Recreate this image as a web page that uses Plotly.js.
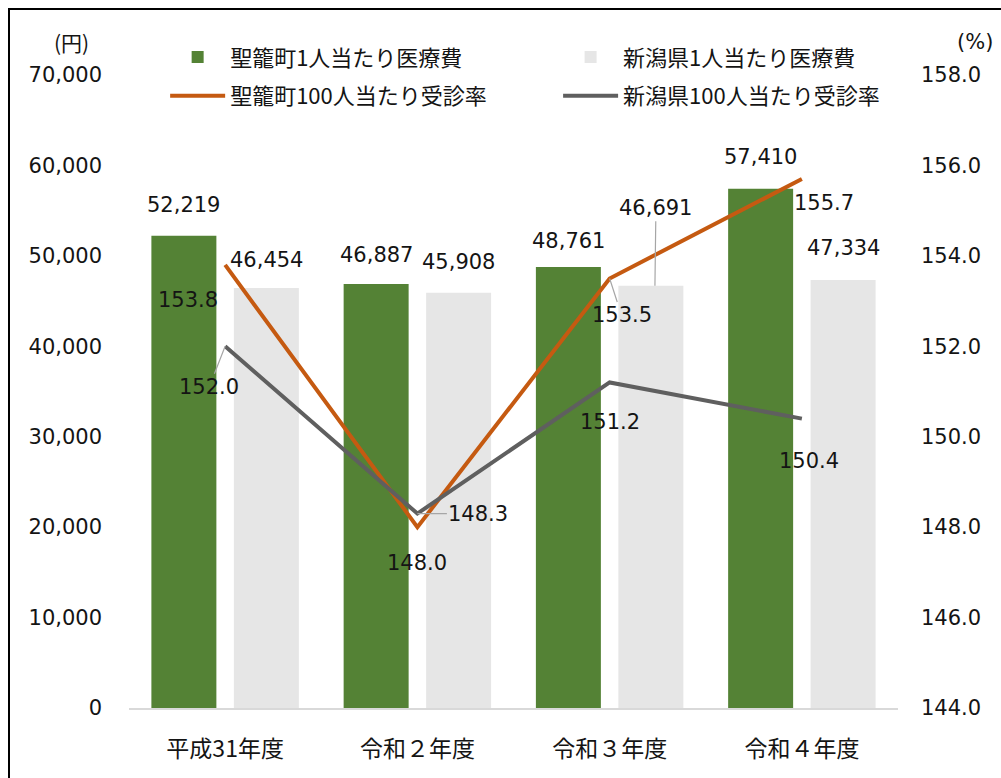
<!DOCTYPE html>
<html><head><meta charset="utf-8">
<script src="https://cdn.plot.ly/plotly-3.0.1.min.js"></script>
<style>
html,body{margin:0;padding:0;background:#fff;}
#chart{width:1001px;height:778px;}
#frame{position:absolute;left:8px;top:8px;width:1100px;height:900px;border:2px solid #000;pointer-events:none;}
</style>
</head><body>
<div id="chart"></div><div id="frame"></div>
<script>
// ---- data ----
const categories = ['平成31年度', '令和２年度', '令和３年度', '令和４年度'];
const seiroCost = [52219, 46887, 48761, 57410];
const niigataCost = [46454, 45908, 46691, 47334];
const seiroRate = [153.8, 148.0, 153.5, 155.7];
const niigataRate = [152.0, 148.3, 151.2, 150.4];
const seriesNames = ['聖籠町1人当たり医療費', '新潟県1人当たり医療費', '聖籠町100人当たり受診率', '新潟県100人当たり受診率'];

// ---- label placement (px offsets, not data) ----
const seiroCostDy = [31, 29, 26, 32];
const niigataCostDy = [28, 31, 78, 32];
const niigataCostLeader = [false, false, true, false];
const seiroRateOff = [[-37, 35, false], [0, 36, false], [12, 37, true], [22, 24, false]];
const niigataRateOff = [[-16, 41, true], [61, 0, true], [0, 40, false], [7, 42, false]];

const NUMFONT = 'DejaVu Sans, Noto Sans CJK JP, sans-serif';
const JPFONT = 'Noto Sans CJK JP, DejaVu Sans, sans-serif';
const NUMSIZE = 21;
const TXT = '#141414';
const GREEN = '#548235', LGRAY = '#E6E6E6', ORANGE = '#C55A11', DGRAY = '#5F5F5F';
const BAR_SHIFT = 41.3;

const traces = [
  {type: 'bar', name: seriesNames[0], x: categories, y: seiroCost, marker: {color: GREEN}, legend: 'legend', hoverinfo: 'skip'},
  {type: 'bar', name: seriesNames[1], x: categories, y: niigataCost, marker: {color: LGRAY}, legend: 'legend2', hoverinfo: 'skip'},
  {type: 'scatter', mode: 'lines', name: seriesNames[2], x: categories, y: seiroRate, yaxis: 'y2', line: {color: ORANGE, width: 4}, legend: 'legend3', hoverinfo: 'skip'},
  {type: 'scatter', mode: 'lines', name: seriesNames[3], x: categories, y: niigataRate, yaxis: 'y2', line: {color: DGRAY, width: 4}, legend: 'legend4', hoverinfo: 'skip'}
];

const ann = [];
const fmt = v => v.toLocaleString('en-US');
const numFont = {family: NUMFONT, size: NUMSIZE, color: TXT};
categories.forEach((c, i) => {
  ann.push({x: c, y: seiroCost[i], xref: 'x', yref: 'y', text: fmt(seiroCost[i]), showarrow: false,
    xshift: -BAR_SHIFT, yshift: seiroCostDy[i], yanchor: 'middle', font: numFont});
  if (niigataCostLeader[i]) {
    ann.push({x: c, y: niigataCost[i], xref: 'x', yref: 'y', text: fmt(niigataCost[i]), showarrow: true,
      arrowhead: 0, arrowwidth: 1.2, arrowcolor: '#A6A6A6', ax: 1, ay: -niigataCostDy[i], xshift: BAR_SHIFT + 4,
      standoff: 0, font: numFont});
  } else {
    ann.push({x: c, y: niigataCost[i], xref: 'x', yref: 'y', text: fmt(niigataCost[i]), showarrow: false,
      xshift: BAR_SHIFT, yshift: niigataCostDy[i], yanchor: 'middle', font: numFont});
  }
  [[seiroRate, seiroRateOff], [niigataRate, niigataRateOff]].forEach(([arr, off]) => {
    const [dx, dy, lead] = off[i];
    if (lead) {
      ann.push({x: c, y: arr[i], xref: 'x', yref: 'y2', text: arr[i].toFixed(1), showarrow: true,
        arrowhead: 0, arrowwidth: 1.2, arrowcolor: '#A6A6A6', ax: dx, ay: dy, standoff: 0, font: numFont});
    } else {
      ann.push({x: c, y: arr[i], xref: 'x', yref: 'y2', text: arr[i].toFixed(1), showarrow: false,
        xshift: dx, yshift: -dy, font: numFont});
    }
  });
});
ann.push({xref: 'paper', yref: 'paper', x: -0.075, y: 1.052, text: '(円)', showarrow: false, xanchor: 'center', yanchor: 'middle',
  font: {family: JPFONT, size: 21, color: TXT}});
ann.push({xref: 'paper', yref: 'paper', x: 1.1, y: 1.052, text: '(%)', showarrow: false, xanchor: 'center', yanchor: 'middle',
  font: numFont});

const legBase = {orientation: 'h', xanchor: 'left', yanchor: 'middle', itemwidth: 55,
  bgcolor: 'rgba(0,0,0,0)', font: {family: JPFONT, size: 22, color: TXT}};
const ROW1 = 1.028, ROW2 = 0.967, COL1 = 0.047, COL2 = 0.558;

const layout = {
  width: 1001, height: 778,
  margin: {l: 129, r: 103, t: 75, b: 70, pad: 0},
  paper_bgcolor: '#fff', plot_bgcolor: '#fff',
  barmode: 'group', bargap: 0.142, bargroupgap: 0.212,
  font: {family: NUMFONT, size: NUMSIZE, color: TXT},
  xaxis: {type: 'category', showgrid: false, showline: true, linecolor: '#D9D9D9', linewidth: 1.5,
    ticks: '', tickfont: {family: JPFONT, size: 23, color: TXT}, ticklabelstandoff: 20, zeroline: false},
  yaxis: {range: [0, 70000], dtick: 10000, tickformat: ',d', showgrid: false, zeroline: false, showline: false,
    ticks: '', tickfont: numFont, ticklabelstandoff: 26},
  yaxis2: {overlaying: 'y', side: 'right', range: [144, 158], dtick: 2, tickformat: '.1f', showgrid: false,
    zeroline: false, showline: false, ticks: '', tickfont: numFont, ticklabelstandoff: 22},
  legend: Object.assign({}, legBase, {x: COL1, y: ROW1}),
  legend2: Object.assign({}, legBase, {x: COL2, y: ROW1}),
  legend3: Object.assign({}, legBase, {x: COL1, y: ROW2}),
  legend4: Object.assign({}, legBase, {x: COL2, y: ROW2}),
  annotations: ann,
  showlegend: true
};

Plotly.newPlot('chart', traces, layout, {displayModeBar: false, staticPlot: true});
</script>
</body></html>
